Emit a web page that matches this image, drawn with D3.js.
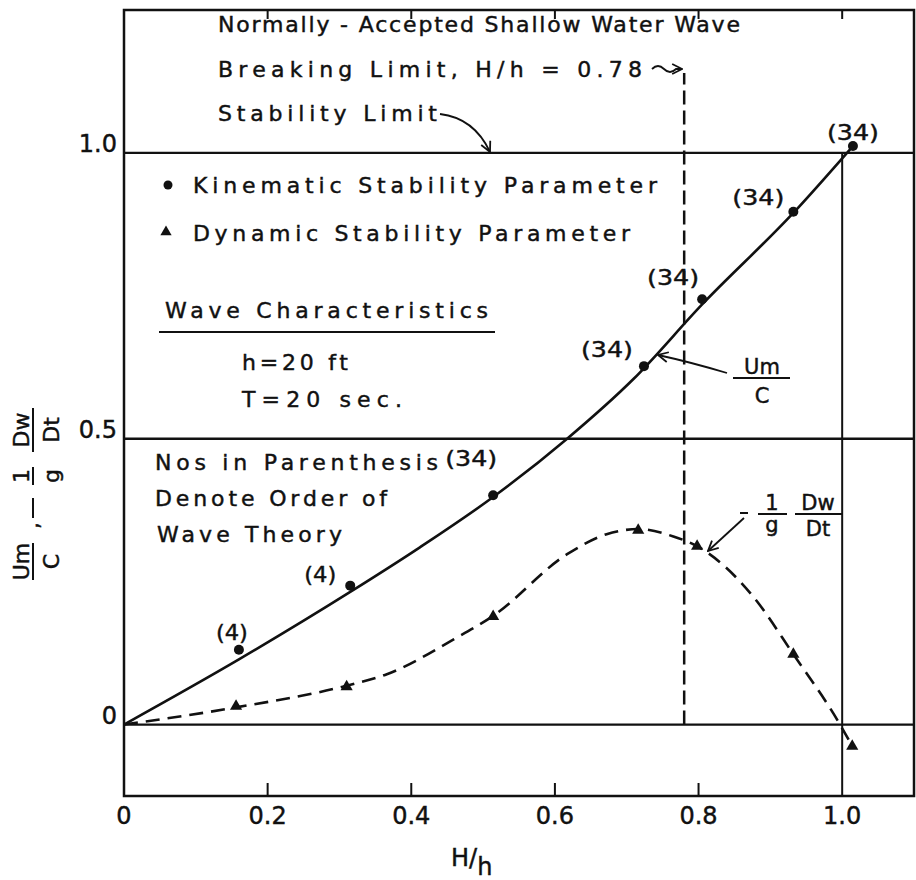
<!DOCTYPE html>
<html>
<head>
<meta charset="utf-8">
<script src="https://d3js.org/d3.v7.min.js"></script>
<style>
body { margin: 0; background: #fff; }
svg text { font-family: 'DejaVu Sans', sans-serif; fill: #111; stroke: #111; stroke-width: 0.45px; }
</style>
</head>
<body>
<div id="chart"></div>
<script>
// kinematic stability parameter Um/C (dots)
var kinX = [0.16, 0.315, 0.514, 0.724, 0.805, 0.932, 1.015];
var kinY = [0.131, 0.243, 0.401, 0.627, 0.744, 0.897, 1.012];
var kinOrder = ["(4)", "(4)", "(34)", "(34)", "(34)", "(34)", "(34)"];

// dynamic stability parameter -1/g Dw/Dt (triangles)
var dynX = [0.156, 0.31, 0.514, 0.716, 0.798, 0.932, 1.014];
var dynY = [0.032, 0.066, 0.189, 0.340, 0.312, 0.123, -0.038];

// faired curves as drawn on the figure
var kinCurveX = [0, 0.16, 0.315, 0.412, 0.514, 0.617, 0.709, 0.805, 0.932, 1.015];
var kinCurveY = [0, 0.114, 0.232, 0.31, 0.398, 0.5, 0.604, 0.735, 0.895, 1.012];
var dynCurveX = [0, 0.156, 0.31, 0.366, 0.459, 0.514, 0.617, 0.672, 0.716, 0.765, 0.798, 0.876, 0.932, 0.997, 1.014];
var dynCurveY = [0, 0.03, 0.068, 0.088, 0.149, 0.19, 0.298, 0.333, 0.342, 0.329, 0.312, 0.224, 0.123, 0, -0.038];

var xTicks = [0, 0.2, 0.4, 0.6, 0.8, 1.0];
var xTickLabels = ["0", "0.2", "0.4", "0.6", "0.8", "1.0"];
var yTicks = [0, 0.5, 1.0];
var yTickLabels = ["0", "0.5", "1.0"];
var breakingLimit = 0.78;
var stabilityLimit = 1.0;

var W = 916, H = 880;
var svg = d3.select("#chart").append("svg").attr("width", W).attr("height", H);

var x = d3.scaleLinear().domain([0, 1.1]).range([124, 914]);
var y = d3.scaleLinear().domain([-0.125, 1.25]).range([796, 10]);

// open arrow head
svg.append("defs").append("marker")
  .attr("id", "arr").attr("viewBox", "0 0 12 12")
  .attr("refX", 11).attr("refY", 6)
  .attr("markerWidth", 12).attr("markerHeight", 12)
  .attr("markerUnits", "userSpaceOnUse")
  .attr("orient", "auto")
  .append("path").attr("d", "M1,1 L11,6 L1,11")
  .attr("fill", "none").attr("stroke", "#111").attr("stroke-width", 1.8);

var g = svg.append("g");

// frame
g.append("rect")
  .attr("x", x(0)).attr("y", y(1.25))
  .attr("width", x(1.1) - x(0)).attr("height", y(-0.125) - y(1.25))
  .attr("fill", "none").attr("stroke", "#111").attr("stroke-width", 2.5);

// horizontal reference lines
g.selectAll(".hl").data(yTicks).enter().append("line")
  .attr("x1", x(0)).attr("x2", x(1.1))
  .attr("y1", function(d) { return y(d); }).attr("y2", function(d) { return y(d); })
  .attr("stroke", "#111").attr("stroke-width", 2.3);

// inward ticks top and bottom
var inner = xTicks.filter(function(d) { return d > 0; });
g.selectAll(".tb").data(inner.filter(function(d) { return d < 1; })).enter().append("line")
  .attr("x1", function(d) { return x(d); }).attr("x2", function(d) { return x(d); })
  .attr("y1", y(-0.125)).attr("y2", y(-0.125) - 13)
  .attr("stroke", "#111").attr("stroke-width", 2);
g.selectAll(".tt").data(inner).enter().append("line")
  .attr("x1", function(d) { return x(d); }).attr("x2", function(d) { return x(d); })
  .attr("y1", y(1.25)).attr("y2", y(1.25) + 9)
  .attr("stroke", "#111").attr("stroke-width", 2);

// stability limit vertical at H/h = 1.0
g.append("line")
  .attr("x1", x(stabilityLimit)).attr("x2", x(stabilityLimit))
  .attr("y1", y(1.0)).attr("y2", y(-0.125))
  .attr("stroke", "#111").attr("stroke-width", 2);

// breaking limit dashed vertical
g.append("line")
  .attr("x1", x(breakingLimit)).attr("x2", x(breakingLimit))
  .attr("y1", y(0)).attr("y2", y(1.14))
  .attr("stroke", "#111").attr("stroke-width", 2.5)
  .attr("stroke-dasharray", "14,6");

// tick labels
g.selectAll(".xl").data(xTicks).enter().append("text")
  .attr("x", function(d) { return x(d); }).attr("y", 824)
  .attr("text-anchor", "middle").attr("font-size", 24)
  .text(function(d, i) { return xTickLabels[i]; });
g.selectAll(".yl").data(yTicks).enter().append("text")
  .attr("x", 117).attr("y", function(d) { return y(d) - 1; })
  .attr("text-anchor", "end").attr("font-size", 24)
  .text(function(d, i) { return yTickLabels[i]; });

// x axis title H/h
var xt = g.append("text").attr("x", 451).attr("y", 866).attr("font-size", 24);
xt.append("tspan").text("H/");
xt.append("tspan").attr("dy", 9).text("h");

// y axis title, rotated
var yt = g.append("g").attr("transform", "translate(33,580) rotate(-90)");
function frac(grp, u0, u1, num, den, size) {
  grp.append("line").attr("x1", u0).attr("x2", u1).attr("y1", 0).attr("y2", 0)
    .attr("stroke", "#111").attr("stroke-width", 2);
  grp.append("text").attr("x", (u0 + u1) / 2).attr("y", -4)
    .attr("text-anchor", "middle").attr("font-size", size).text(num);
  grp.append("text").attr("x", (u0 + u1) / 2).attr("y", 26)
    .attr("text-anchor", "middle").attr("font-size", size).text(den);
}
frac(yt, 0, 37, "Um", "C", 22);
yt.append("text").attr("x", 51).attr("y", 6).attr("font-size", 22).text(",");
yt.append("line").attr("x1", 62).attr("x2", 82).attr("y1", 0).attr("y2", 0)
  .attr("stroke", "#111").attr("stroke-width", 2);
frac(yt, 95, 113, "1", "g", 22);
frac(yt, 128, 172, "Dw", "Dt", 22);

// curves
var line = d3.line()
  .x(function(d) { return x(d[0]); }).y(function(d) { return y(d[1]); })
  .curve(d3.curveMonotoneX);
g.append("path").datum(d3.zip(kinCurveX, kinCurveY))
  .attr("d", line).attr("fill", "none").attr("stroke", "#111").attr("stroke-width", 2.6);
g.append("path").datum(d3.zip(dynCurveX, dynCurveY))
  .attr("d", line).attr("fill", "none").attr("stroke", "#111").attr("stroke-width", 2.6)
  .attr("stroke-dasharray", "14,8");

// markers
g.selectAll(".dot").data(d3.zip(kinX, kinY)).enter().append("circle")
  .attr("cx", function(d) { return x(d[0]); }).attr("cy", function(d) { return y(d[1]); })
  .attr("r", 5).attr("fill", "#111");
var tri = d3.symbol().type(d3.symbolTriangle).size(64);
g.selectAll(".tri").data(d3.zip(dynX, dynY)).enter().append("path")
  .attr("transform", function(d) { return "translate(" + x(d[0]) + "," + y(d[1]) + ")"; })
  .attr("d", tri).attr("fill", "#111");

// order-of-theory labels beside the dots
var labOff = [[-7, -10], [-30, -4], [-22, -29], [-37, -9], [-29, -14], [-35, -7], [0, -6]];
g.selectAll(".ord").data(kinOrder).enter().append("text")
  .attr("x", function(d, i) { return x(kinX[i]) + labOff[i][0]; })
  .attr("y", function(d, i) { return y(kinY[i]) + labOff[i][1]; })
  .attr("text-anchor", "middle").attr("font-size", 22)
  .attr("textLength", function(d) { return d.length > 3 ? 52 : 32; })
  .attr("lengthAdjust", "spacingAndGlyphs")
  .text(function(d) { return d; });

// annotation text helper: fit text between x0 and x1
function note(str, x0, x1, by, size) {
  return g.append("text").attr("x", x0).attr("y", by).attr("font-size", size || 22)
    .attr("textLength", x1 - x0).attr("lengthAdjust", "spacing").text(str);
}
note("Normally - Accepted  Shallow Water Wave", 218, 740, 32);
note("Breaking  Limit, H/h = 0.78", 218, 642, 77);
note("Stability  Limit", 218, 437, 121);

// squiggle arrow to breaking limit
g.append("path").attr("d", "M652,69 q6,-6 12,0 t12,0 L" + (x(breakingLimit) - 2) + ",69")
  .attr("fill", "none").attr("stroke", "#111").attr("stroke-width", 1.8)
  .attr("marker-end", "url(#arr)");
// stability limit arrow
g.append("path").attr("d", "M440,114 Q474,118 490," + (y(stabilityLimit) - 1))
  .attr("fill", "none").attr("stroke", "#111").attr("stroke-width", 1.8)
  .attr("marker-end", "url(#arr)");

// legend
g.append("circle").attr("cx", 168).attr("cy", 185).attr("r", 4.5).attr("fill", "#111");
note("Kinematic  Stability  Parameter", 193, 657, 193);
g.append("path").attr("transform", "translate(166,232)")
  .attr("d", d3.symbol().type(d3.symbolTriangle).size(55)).attr("fill", "#111");
note("Dynamic  Stability  Parameter", 193, 630, 241);

note("Wave  Characteristics", 165, 488, 318);
g.append("line").attr("x1", 159).attr("x2", 495).attr("y1", 332).attr("y2", 332)
  .attr("stroke", "#111").attr("stroke-width", 2);
note("h=20 ft", 242, 348, 370);
note("T=20 sec.", 242, 402, 407);

note("Nos  in  Parenthesis", 155, 438, 470);
note("Denote  Order  of", 155, 387, 506);
note("Wave  Theory", 157, 342, 542);

// curve labels
var um = g.append("g");
um.append("text").attr("x", 762).attr("y", 374).attr("text-anchor", "middle")
  .attr("font-size", 21).text("Um");
um.append("line").attr("x1", 733).attr("x2", 790).attr("y1", 378).attr("y2", 378)
  .attr("stroke", "#111").attr("stroke-width", 2);
um.append("text").attr("x", 762).attr("y", 403).attr("text-anchor", "middle")
  .attr("font-size", 21).text("C");
g.append("path").attr("d", "M727,373 Q690,362 658,355")
  .attr("fill", "none").attr("stroke", "#111").attr("stroke-width", 1.8)
  .attr("marker-end", "url(#arr)");

var dw = g.append("g");
dw.append("line").attr("x1", 740).attr("x2", 748).attr("y1", 513).attr("y2", 513)
  .attr("stroke", "#111").attr("stroke-width", 2);
dw.append("text").attr("x", 772).attr("y", 510).attr("text-anchor", "middle")
  .attr("font-size", 21).text("1");
dw.append("line").attr("x1", 758).attr("x2", 787).attr("y1", 514).attr("y2", 514)
  .attr("stroke", "#111").attr("stroke-width", 2);
dw.append("text").attr("x", 772).attr("y", 532).attr("text-anchor", "middle")
  .attr("font-size", 21).text("g");
dw.append("text").attr("x", 818).attr("y", 510).attr("text-anchor", "middle")
  .attr("font-size", 21).text("Dw");
dw.append("line").attr("x1", 795).attr("x2", 842).attr("y1", 514).attr("y2", 514)
  .attr("stroke", "#111").attr("stroke-width", 2);
dw.append("text").attr("x", 818).attr("y", 536).attr("text-anchor", "middle")
  .attr("font-size", 21).text("Dt");
g.append("path").attr("d", "M744,518 L708,551")
  .attr("fill", "none").attr("stroke", "#111").attr("stroke-width", 1.8)
  .attr("marker-end", "url(#arr)");
</script>
</body>
</html>
